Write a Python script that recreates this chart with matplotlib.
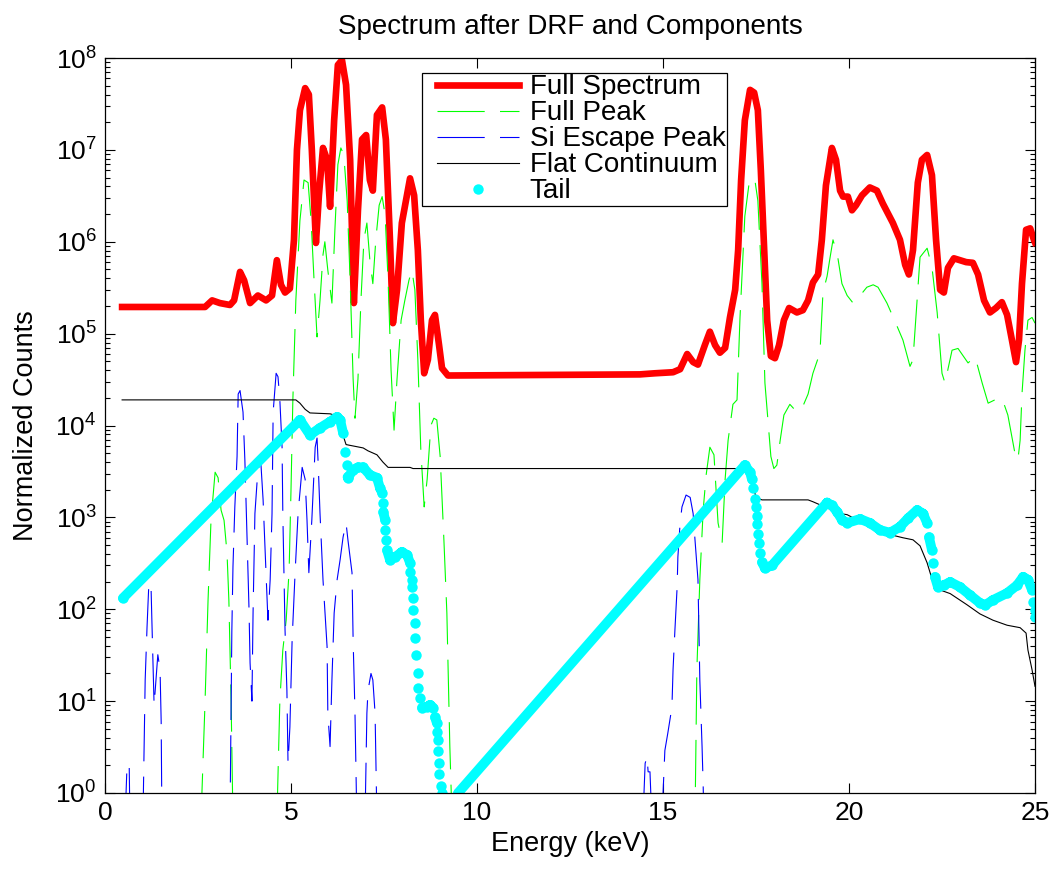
import numpy as np
import matplotlib
matplotlib.use('Agg')
import matplotlib.pyplot as plt
from matplotlib.lines import Line2D
from matplotlib.legend_handler import HandlerLine2D
from matplotlib.ticker import LogLocator, NullFormatter

plt.rcParams['font.family'] = ['Liberation Sans', 'DejaVu Sans']
plt.rcParams['mathtext.default'] = 'regular'
plt.rcParams['lines.scale_dashes'] = False

# ---- Full Spectrum (keV, counts) ----
full_E = [0.46, 2.69, 2.88, 3.09, 3.36, 3.47, 3.63, 3.74, 3.90, 4.11, 4.33, 4.49, 4.62, 4.73,
          4.84, 4.97, 5.08, 5.16, 5.24, 5.38, 5.48, 5.56, 5.67, 5.75, 5.86, 5.97, 6.05, 6.16,
          6.26, 6.37, 6.48, 6.59, 6.69, 6.80, 6.91, 7.02, 7.12, 7.20, 7.31, 7.45, 7.55, 7.66,
          7.74, 7.85, 7.98, 8.09, 8.20, 8.31, 8.41, 8.49, 8.58, 8.68, 8.79, 8.87, 8.98, 9.06,
          9.22, 14.38, 14.78, 15.27, 15.46, 15.65, 15.81, 15.94, 16.13, 16.26, 16.40, 16.53,
          16.67, 16.80, 16.94, 17.02, 17.10, 17.20, 17.34, 17.45, 17.55, 17.63, 17.72, 17.80,
          17.90, 18.01, 18.12, 18.25, 18.39, 18.60, 18.76, 18.90, 19.03, 19.17, 19.27, 19.38,
          19.54, 19.65, 19.76, 19.84, 19.97, 20.08, 20.19, 20.35, 20.56, 20.75, 20.91, 21.18,
          21.37, 21.51, 21.61, 21.72, 21.85, 21.96, 22.10, 22.23, 22.34, 22.45, 22.55, 22.66,
          22.82, 22.98, 23.15, 23.33, 23.47, 23.63, 23.79, 23.95, 24.11, 24.25, 24.38, 24.49,
          24.57, 24.65, 24.76, 24.87, 24.97, 25.0]
full_C = [1.95e5, 1.95e5, 2.3e5, 2.15e5, 2.05e5, 2.3e5, 4.7e5, 3.8e5, 2.15e5, 2.6e5, 2.3e5,
          2.6e5, 6.3e5, 3.4e5, 2.8e5, 3.1e5, 1.05e6, 1.0e7, 2.7e7, 4.7e7, 4.0e7, 1.0e7, 9.7e5,
          3.2e6, 1.05e7, 7.8e6, 2.4e6, 2.1e7, 8.4e7, 9.5e7, 5.1e7, 7.8e6, 2.15e5, 2.2e6, 1.3e7,
          1.45e7, 4.7e6, 3.6e6, 2.4e7, 2.9e7, 1.3e7, 1.05e6, 1.3e5, 3.0e5, 1.6e6, 2.8e6, 4.9e6,
          3.2e6, 8.1e5, 1.4e5, 3.7e4, 5.2e4, 1.4e5, 1.6e5, 7.5e4, 4.2e4, 3.5e4, 3.6e4, 3.7e4,
          3.8e4, 4.1e4, 6.0e4, 4.9e4, 4.6e4, 7.6e4, 1.05e5, 7.5e4, 6.2e4, 7.0e4, 1.5e5, 3.0e5,
          8.1e5, 4.7e6, 2.1e7, 4.5e7, 4.2e7, 2.7e7, 6.0e6, 8.1e5, 1.4e5, 5.7e4, 5.4e4, 7.5e4,
          1.4e5, 1.9e5, 1.7e5, 1.8e5, 2.3e5, 3.6e5, 4.4e5, 1.05e6, 4.1e6, 1.05e7, 7.8e6, 3.6e6,
          3.1e6, 3.1e6, 2.2e6, 2.5e6, 3.2e6, 3.9e6, 3.6e6, 2.6e6, 1.6e6, 1.05e6, 5.6e5, 4.4e5,
          8.1e5, 4.4e6, 7.8e6, 8.8e6, 5.3e6, 1.05e6, 3.0e5, 2.8e5, 5.2e5, 6.6e5, 6.3e5, 6.0e5,
          5.9e5, 4.4e5, 2.3e5, 1.7e5, 1.9e5, 2.2e5, 1.6e5, 8.5e4, 4.9e4, 8.5e4, 3.5e5, 1.35e6,
          1.4e6, 1.05e6, 9.8e5]

# ---- Full Peak ----
peak_E = [2.58, 2.69, 2.77, 2.85, 2.96, 3.04, 3.12, 3.20, 3.28, 3.33, 3.39, 3.44,
          4.62, 4.70, 4.78, 4.87, 4.95, 5.00, 5.05, 5.13, 5.24, 5.35, 5.46, 5.54, 5.62, 5.70,
          5.78, 5.86, 5.91, 5.99, 6.10, 6.18, 6.26, 6.34, 6.42, 6.51, 6.59, 6.67, 6.72, 6.80,
          6.88, 6.96, 7.04, 7.12, 7.20, 7.28, 7.37, 7.45, 7.53, 7.61, 7.69, 7.77, 7.85, 7.96,
          8.06, 8.17, 8.25, 8.33, 8.41, 8.49, 8.58, 8.66, 8.76, 8.84, 8.92, 9.01, 9.11, 9.19,
          9.27, 9.33,
          15.86, 15.91, 15.99, 16.08, 16.16, 16.26, 16.37, 16.48, 16.59, 16.67, 16.75, 16.88,
          16.99, 17.07, 17.20, 17.31, 17.39, 17.47, 17.55, 17.66, 17.74, 17.82, 17.90, 17.98,
          18.06, 18.15, 18.25, 18.41, 18.60, 18.74, 18.90, 19.03, 19.22, 19.30, 19.41, 19.49,
          19.57, 19.70, 19.81, 19.95, 20.11, 20.30, 20.48, 20.65, 20.78, 21.02, 21.24, 21.45,
          21.64, 21.72, 21.83, 21.91, 22.10, 22.23, 22.37, 22.50, 22.58, 22.77, 22.93, 23.20,
          23.39, 23.58, 23.74, 23.92, 24.11, 24.27, 24.46, 24.54, 24.60, 24.65, 24.73, 24.81,
          24.92, 25.0]
peak_C = [0.5, 10, 125, 940, 3.1e3, 2.7e3, 1.2e3, 930, 410, 125, 10, 0.5,
          0.5, 10, 36, 76, 270, 2.0e3, 1.9e4, 2.3e5, 1.7e6, 4.7e6, 4.4e6, 1.7e6, 3.8e5, 9.2e4,
          2.3e5, 7.2e5, 1.0e6, 4.9e5, 2.15e5, 1.35e6, 6.9e6, 1.05e7, 8.8e6, 2.8e6, 3.8e5, 3.2e4,
          1.2e4, 3.2e4, 2.3e5, 1.05e6, 1.6e6, 6.3e5, 3.5e5, 1.05e6, 2.5e6, 3.1e6, 1.95e6, 3.8e5,
          4.0e4, 8.9e3, 3.2e4, 1.4e5, 2.3e5, 3.8e5, 4.9e5, 3.0e5, 5.2e4, 5.4e3, 1.3e3, 2.6e3,
          1.0e4, 1.2e4, 1.15e4, 4.6e3, 570, 91, 3.2, 0.5,
          0.5, 22, 210, 1.2e3, 2.9e3, 5.8e3, 4.8e3, 870, 530, 2.6e3, 6.9e3, 1.7e4, 1.9e4,
          1.5e5, 1.9e6, 4.2e6, 5.0e6, 4.7e6, 2.8e6, 3.5e5, 2.9e4, 1.15e4, 4.6e3, 3.4e3, 3.7e3,
          6.9e3, 1.3e4, 1.7e4, 1.4e4, 1.55e4, 2.2e4, 3.7e4, 6.2e4, 2.8e5, 4.2e5, 6.7e5, 1.05e6,
          6.7e5, 3.5e5, 2.6e5, 2.15e5, 2.6e5, 3.2e5, 3.4e5, 3.2e5, 2.15e5, 1.35e5, 8.5e4, 4.4e4,
          5.2e4, 2.3e5, 6.8e5, 8.5e5, 5.3e5, 1.7e5, 3.7e4, 2.9e4, 6.6e4, 6.9e4, 4.8e4, 5.6e4,
          2.9e4, 1.75e4, 1.9e4, 2.0e4, 1.3e4, 5.0e3, 4.2e3, 6.9e3, 2.2e4, 6.6e4, 1.4e5, 1.5e5,
          1.3e5]

# ---- Si Escape Peak ----
esc_E = [0.54, 0.59, 0.65, 0.67,
         1.02, 1.08, 1.13, 1.18, 1.24, 1.26, 1.29, 1.32, 1.37, 1.42, 1.48, 1.51, 1.53,
         3.36, 3.41, 3.44, 3.49, 3.55, 3.58, 3.63, 3.71, 3.76, 3.82, 3.87, 3.90, 3.95, 3.98,
         4.03, 4.11, 4.19, 4.25, 4.30, 4.38, 4.44, 4.49, 4.52, 4.60, 4.65, 4.70, 4.76, 4.78,
         4.84, 4.89, 4.92, 4.97, 5.03, 5.11, 5.19, 5.30, 5.38, 5.43, 5.48, 5.56, 5.65, 5.70,
         5.73, 5.78, 5.86, 5.97, 5.99, 6.05, 6.10, 6.16, 6.24, 6.32, 6.40, 6.48, 6.53, 6.64,
         6.67, 6.72, 6.77,
         6.99, 7.04, 7.07, 7.15, 7.20, 7.26, 7.31,
         14.46, 14.52, 14.57, 14.60, 14.65, 14.70,
         14.97, 15.05, 15.13, 15.24, 15.27, 15.32, 15.38, 15.40, 15.46, 15.51, 15.62, 15.73,
         15.81, 15.86, 15.94, 15.99, 16.05, 16.08, 16.10]
esc_C = [0.5, 1.9, 2.1, 0.5,
         0.5, 17, 64, 195, 160, 76, 26, 9, 17, 32, 22, 6, 0.5,
         0.5, 59, 290, 1.3e3, 4.6e3, 2.2e4, 2.4e4, 1.4e4, 4.2e3, 570, 105, 26, 10, 91,
         1.1e3, 3.3e3, 3.9e3, 1.55e3, 480, 76, 210, 1.1e3, 1.4e4, 3.7e4, 3.4e4, 1.9e4, 5.8e3,
         1.1e3, 59, 13, 2.1, 5.2, 46, 250, 1.1e3, 3.5e3, 2.6e3, 940, 250, 940, 5.8e3, 7.3e3,
         3.9e3, 1.1e3, 210, 39, 7.4, 3.2, 17, 91, 210, 345, 610, 870, 570, 250,
         46, 7.4, 0.5,
         0.5, 7.4, 13, 20, 17, 7.4, 0.5,
         0.5, 2.1, 2.5, 1.7, 1.7, 0.5,
         0.5, 2.9, 4.5, 8.6, 22, 59, 175, 370, 870, 1.3e3, 1.75e3, 1.65e3,
         1.1e3, 570, 210, 17, 3.2, 1.2, 0.5]

# ---- Flat Continuum ----
flat_E = [0.46, 5.13, 5.24, 5.38, 5.51, 6.05, 6.26, 6.37, 6.48, 6.94, 7.07, 7.31, 7.47, 7.61,
          8.20, 8.28, 17.34, 17.42, 17.50, 17.66, 18.90, 19.03, 19.76, 19.95, 20.65, 21.10,
          21.45, 21.72, 21.91, 22.10, 22.26, 22.45, 22.72, 23.17, 23.52, 23.87, 24.25, 24.60,
          24.76, 24.81, 24.92, 25.0]
flat_C = [1.9e4, 1.9e4, 1.75e4, 1.5e4, 1.37e4, 1.34e4, 1.27e4, 8.5e3, 6.2e3, 5.7e3, 5.3e3,
          4.8e3, 4.0e3, 3.5e3, 3.5e3, 3.4e3, 3.4e3, 2.2e3, 1.65e3, 1.55e3, 1.55e3, 1.48e3,
          1.1e3, 1.07e3, 760, 650, 600, 570, 490, 320, 195, 162, 148, 112, 89, 76, 67, 63,
          55, 36, 22, 14.5]

# ---- Tail (two pieces) ----
tail1_E = [0.48, 5.24, 5.51, 5.78, 6.05, 6.24, 6.32, 6.40, 6.45, 6.51, 6.52, 6.53, 6.67, 6.80,
           6.94, 7.12, 7.31, 7.39, 7.45, 7.47, 7.48, 7.53, 7.54, 7.55, 7.58, 7.66, 7.80, 7.98,
           8.12, 8.20, 8.21, 8.25, 8.26, 8.28, 8.29, 8.33, 8.34, 8.35, 8.41, 8.42, 8.47, 8.52,
           8.66, 8.74, 8.82, 8.87, 8.92, 8.93, 8.95, 8.96, 8.98, 8.99, 9.03, 9.06]
tail1_C = [132, 1.15e4, 7.9e3, 9.4e3, 1.1e4, 1.24e4, 1.15e4, 8.3e3, 5.1e3, 3.7e3, 2.75e3,
           2.7e3, 3.3e3, 3.5e3, 3.5e3, 2.9e3, 2.7e3, 2.1e3, 1.85e3, 1.45e3, 1.15e3, 940, 730,
           570, 440, 345, 370, 420, 390, 320, 255, 210, 175, 132, 98, 71, 49, 32, 20, 14, 10.8,
           8.5, 8.7, 9.1, 8.5, 6.7, 5.8, 4.6, 3.8, 2.9, 2.1, 1.6, 1.2, 1.0]
tail2_E = [9.49, 17.20, 17.34, 17.39, 17.42, 17.47, 17.50, 17.53, 17.54, 17.55, 17.57, 17.61,
           17.66, 17.74, 17.93, 19.41, 19.54, 19.68, 19.81, 19.95, 20.30, 20.56, 20.83, 21.10,
           21.37, 21.59, 21.83, 21.99, 22.10, 22.15, 22.23, 22.26, 22.31, 22.39, 22.55, 22.72,
           22.98, 23.25, 23.52, 23.66, 23.87, 24.25, 24.52, 24.68, 24.81, 24.92, 24.95, 24.99,
           25.0]
tail2_C = [1.0, 3.7e3, 3.1e3, 2.6e3, 2.1e3, 1.6e3, 1.3e3, 1.03e3, 850, 660, 530, 410, 325,
           280, 300, 1.45e3, 1.35e3, 1.15e3, 940, 870, 960, 870, 730, 680, 790, 980, 1.2e3,
           1.1e3, 870, 610, 440, 320, 225, 175, 183, 198, 175, 143, 117, 111, 126, 150, 183,
           225, 210, 162, 120, 98, 83]

y_ticks = [1e0, 1e1, 1e2, 1e3, 1e4, 1e5, 1e6, 1e7, 1e8]
x_ticks = [0, 5, 10, 15, 20, 25]


def gentle_runs(E, C, max_slope=2.0):
    # join neighbouring tail points only where the curve is not steep
    xs, ys = [], []
    for i in range(len(E) - 1):
        dE = E[i + 1] - E[i]
        s = abs(np.log10(C[i + 1] / C[i])) / dE if dE > 0 else np.inf
        if s < max_slope:
            xs += [E[i], E[i + 1], np.nan]
            ys += [C[i], C[i + 1], np.nan]
    return xs, ys


fig = plt.figure(figsize=(10.54, 8.69), dpi=100)
ax = fig.add_axes([105 / 1054, 1 - 793 / 869, 930 / 1054, 735 / 869])
ax.set_yscale('log')

ax.plot(full_E, full_C, color='red', lw=4.8, label='Full Spectrum',
        solid_joinstyle='round')
ax.plot(peak_E, peak_C, color='#00ff00', lw=0.8, dashes=(34, 11), label='Full Peak')
ax.plot(esc_E, esc_C, color='blue', lw=0.8, dashes=(34, 11), label='Si Escape Peak')
ax.plot(flat_E, flat_C, color='black', lw=0.8, label='Flat Continuum')
for E, C in [(tail1_E, tail1_C), (tail2_E, tail2_C)]:
    xs, ys = gentle_runs(E, C)
    ax.plot(xs, ys, color='cyan', lw=7, solid_capstyle='round', solid_joinstyle='round')
ax.plot(tail1_E + tail2_E, tail1_C + tail2_C, 'o', color='cyan', ms=7.5, mec='none',
        label='Tail')

ax.set_xlim(0, 25)
ax.set_ylim(1, 1e8)
ax.set_xticks(x_ticks)
ax.set_yticks(y_ticks)
ax.yaxis.set_minor_locator(LogLocator(base=10, subs=np.arange(2, 10), numticks=20))
ax.yaxis.set_minor_formatter(NullFormatter())
ax.set_ylim(1, 1e8)
ax.tick_params(which='both', direction='in', top=True, right=True, width=0.8)
ax.tick_params(which='major', length=7, labelsize=19, pad=6)
ax.tick_params(which='minor', length=3.6)
for sp in ax.spines.values():
    sp.set_linewidth(0.9)

ax.set_title('Spectrum after DRF and Components', fontsize=20, pad=17)
ax.set_xlabel('Energy (keV)', fontsize=19.5, labelpad=4)
ax.set_ylabel('Normalized Counts', fontsize=19.5, labelpad=12)

leg = ax.legend(loc='upper left', bbox_to_anchor=(0.3409, 0.9796), borderaxespad=0,
                fontsize=20, numpoints=1, handlelength=3.44, handletextpad=0.38,
                labelspacing=0.0, borderpad=0.05, fancybox=False, framealpha=1,
                edgecolor='black', handler_map={Line2D: HandlerLine2D(xpad=0.5)})
leg.get_frame().set_linewidth(0.9)

fig.savefig('out.png', dpi=100)
